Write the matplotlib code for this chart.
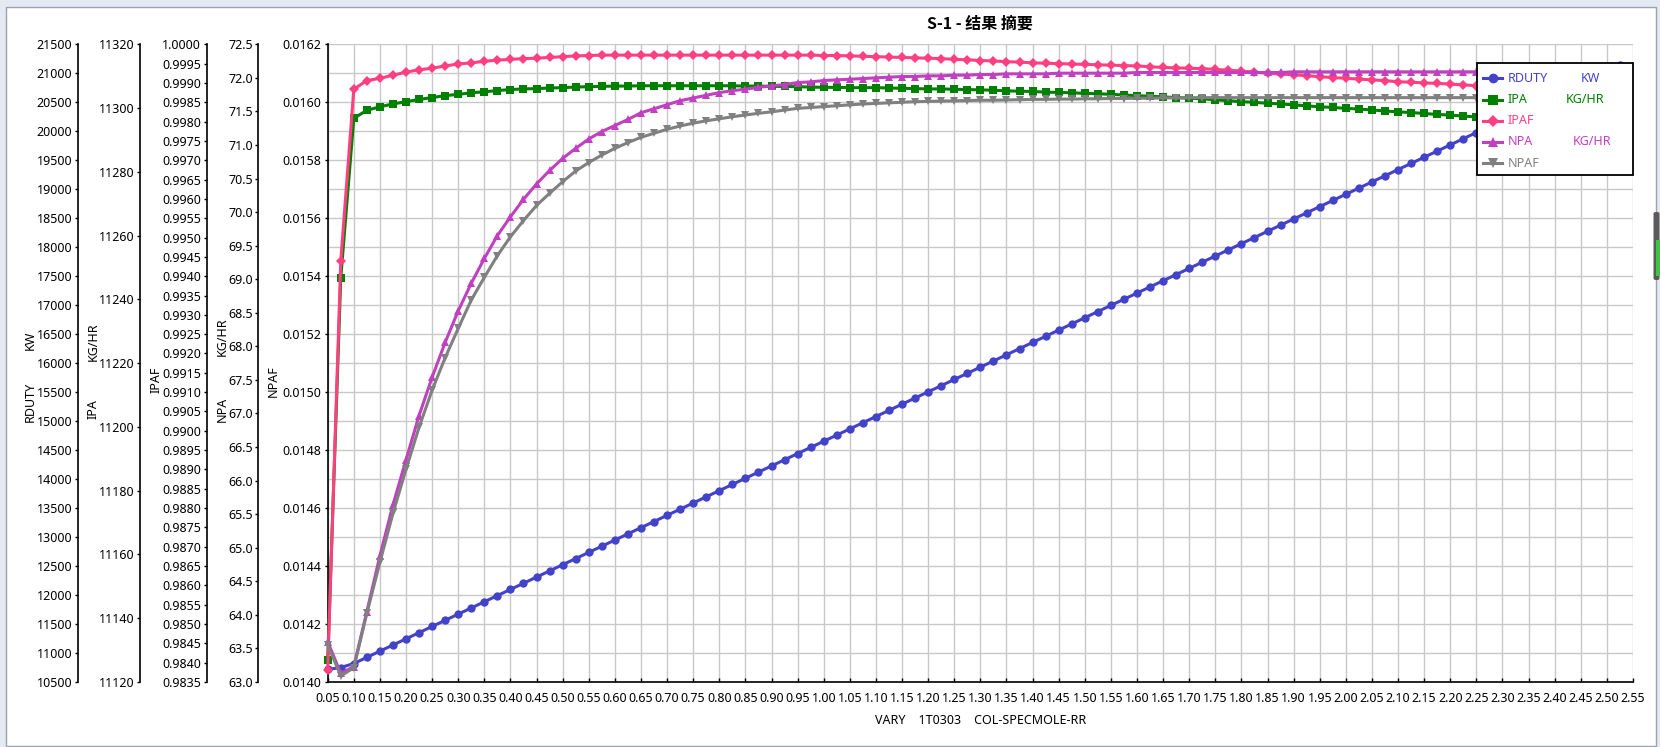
import matplotlib
import matplotlib.pyplot as plt
import numpy as np
from matplotlib.lines import Line2D
from matplotlib.patches import Rectangle, FancyBboxPatch
from matplotlib.ticker import MultipleLocator, FormatStrFormatter

matplotlib.use("Agg")

plt.rcParams["font.family"] = ["Noto Sans", "Noto Sans CJK SC", "DejaVu Sans"]
plt.rcParams["font.size"] = 9

# sweep variable: VARY 1, T0303 COL-SPEC MOLE-RR (0.05 .. 2.525, step 0.025)
vary_rr = np.linspace(0.05, 2.525, 100)

# RDUTY  (KW)
rduty = [
    10716, 10750, 10819, 10925, 11032, 11138, 11245, 11351, 11458, 11564,
    11671, 11777, 11884, 11990, 12097, 12203, 12310, 12416, 12523, 12629,
    12736, 12842, 12949, 13055, 13162, 13268, 13375, 13481, 13588, 13694,
    13801, 13907, 14014, 14120, 14227, 14333, 14440, 14546, 14653, 14759,
    14866, 14972, 15079, 15185, 15292, 15398, 15505, 15611, 15718, 15824,
    15931, 16037, 16144, 16250, 16357, 16463, 16570, 16676, 16783, 16889,
    16996, 17102, 17209, 17315, 17422, 17528, 17635, 17741, 17848, 17954,
    18061, 18167, 18274, 18380, 18487, 18593, 18700, 18806, 18913, 19019,
    19126, 19232, 19339, 19445, 19552, 19658, 19765, 19871, 19978, 20084,
    20191, 20297, 20404, 20510, 20617, 20723, 20830, 20936, 21043, 21149,
]

# IPA  (KG/HR)
ipa = [
    11126.9, 11246.7, 11296.8, 11299.3, 11300.4, 11301.3, 11302.0, 11302.7, 11303.3, 11303.9,
    11304.3, 11304.8, 11305.1, 11305.5, 11305.8, 11306.0, 11306.1, 11306.3, 11306.4, 11306.6,
    11306.7, 11306.8, 11306.9, 11306.9, 11307.0, 11307.0, 11307.0, 11307.0, 11307.0, 11307.0,
    11307.0, 11307.0, 11306.9, 11306.9, 11306.8, 11306.8, 11306.7, 11306.6, 11306.5, 11306.5,
    11306.4, 11306.4, 11306.4, 11306.3, 11306.2, 11306.1, 11306.0, 11306.0, 11305.9, 11305.8,
    11305.7, 11305.6, 11305.4, 11305.3, 11305.2, 11305.0, 11304.9, 11304.8, 11304.6, 11304.5,
    11304.3, 11304.1, 11303.9, 11303.7, 11303.5, 11303.3, 11303.1, 11302.9, 11302.6, 11302.3,
    11302.0, 11301.8, 11301.5, 11301.3, 11301.0, 11300.7, 11300.4, 11300.2, 11299.9, 11299.7,
    11299.4, 11299.1, 11298.8, 11298.6, 11298.3, 11298.0, 11297.8, 11297.5, 11297.2, 11297.0,
    11296.7, 11296.4, 11296.2, 11295.9, 11295.6, 11295.4, 11295.1, 11294.8, 11294.6, 11294.3,
]

# IPAF
ipaf = [
    0.98381, 0.99439, 0.99884, 0.99906, 0.99912, 0.99920, 0.99928, 0.99934, 0.99938, 0.99944,
    0.99949, 0.99952, 0.99956, 0.99959, 0.99961, 0.99963, 0.99964, 0.99966, 0.99968, 0.99970,
    0.99971, 0.99972, 0.99972, 0.99972, 0.99972, 0.99972, 0.99972, 0.99972, 0.99972, 0.99972,
    0.99972, 0.99972, 0.99972, 0.99972, 0.99972, 0.99972, 0.99972, 0.99972, 0.99971, 0.99971,
    0.99970, 0.99969, 0.99968, 0.99967, 0.99966, 0.99965, 0.99964, 0.99963, 0.99961, 0.99960,
    0.99958, 0.99957, 0.99955, 0.99954, 0.99952, 0.99951, 0.99950, 0.99949, 0.99948, 0.99947,
    0.99946, 0.99945, 0.99944, 0.99942, 0.99940, 0.99939, 0.99938, 0.99937, 0.99935, 0.99933,
    0.99931, 0.99928, 0.99925, 0.99923, 0.99921, 0.99919, 0.99916, 0.99914, 0.99912, 0.99910,
    0.99908, 0.99906, 0.99903, 0.99902, 0.99900, 0.99899, 0.99897, 0.99895, 0.99893, 0.99891,
    0.99889, 0.99887, 0.99885, 0.99883, 0.99881, 0.99879, 0.99877, 0.99875, 0.99873, 0.99871,
]

# NPA  (KG/HR)
npa = [
    63.60, 63.13, 63.23, 64.05, 64.88, 65.64, 66.31, 66.97, 67.54, 68.06,
    68.53, 68.94, 69.31, 69.65, 69.93, 70.19, 70.42, 70.62, 70.80, 70.95,
    71.09, 71.20, 71.29, 71.38, 71.48, 71.54, 71.60, 71.66, 71.70, 71.74,
    71.78, 71.81, 71.83, 71.86, 71.88, 71.90, 71.93, 71.94, 71.96, 71.97,
    71.98, 71.99, 72.00, 72.01, 72.02, 72.02, 72.03, 72.03, 72.04, 72.04,
    72.05, 72.05, 72.06, 72.06, 72.06, 72.06, 72.07, 72.07, 72.07, 72.07,
    72.07, 72.07, 72.08, 72.08, 72.08, 72.08, 72.08, 72.08, 72.08, 72.08,
    72.08, 72.08, 72.08, 72.08, 72.09, 72.09, 72.09, 72.09, 72.09, 72.09,
    72.09, 72.09, 72.09, 72.09, 72.09, 72.09, 72.09, 72.09, 72.09, 72.09,
    72.09, 72.09, 72.09, 72.09, 72.09, 72.09, 72.09, 72.09, 72.09, 72.09,
]

# NPAF
npaf = [
    0.014128, 0.014021, 0.014049, 0.014237, 0.014413, 0.014582, 0.014734, 0.014879, 0.015007, 0.015119,
    0.015220, 0.015318, 0.015396, 0.015471, 0.015536, 0.015592, 0.015644, 0.015686, 0.015726, 0.015763,
    0.015792, 0.015818, 0.015841, 0.015861, 0.015879, 0.015893, 0.015907, 0.015918, 0.015928, 0.015936,
    0.015943, 0.015950, 0.015956, 0.015962, 0.015967, 0.015973, 0.015979, 0.015982, 0.015985, 0.015988,
    0.015991, 0.015994, 0.015996, 0.015998, 0.016000, 0.016002, 0.016003, 0.016004, 0.016005, 0.016006,
    0.016007, 0.016007, 0.016008, 0.016009, 0.016010, 0.016010, 0.016011, 0.016011, 0.016012, 0.016012,
    0.016013, 0.016013, 0.016014, 0.016014, 0.016015, 0.016015, 0.016016, 0.016016, 0.016016, 0.016016,
    0.016016, 0.016016, 0.016016, 0.016016, 0.016016, 0.016016, 0.016016, 0.016016, 0.016016, 0.016016,
    0.016016, 0.016016, 0.016016, 0.016016, 0.016016, 0.016016, 0.016016, 0.016016, 0.016016, 0.016016,
    0.016016, 0.016016, 0.016016, 0.016016, 0.016016, 0.016016, 0.016016, 0.016016, 0.016016, 0.016016,
]

names = ["RDUTY", "IPA", "IPAF", "NPA", "NPAF"]
units = ["KW", "KG/HR", "", "KG/HR", ""]

# ---- layout (pixels) ----
W, H = 1660, 747
L, T, R, B = 327.7, 44.3, 1633.0, 682.0

colors = ["#4343c9", "#008000", "#ff4080", "#c040c0", "#808080"]
markers = ["o", "s", "D", "^", "v"]
msizes = [6, 5.5, 5, 6, 6]


def px2ax(xp):
    return (xp - L) / (R - L)


fig = plt.figure(figsize=(W / 100, H / 100), dpi=100, facecolor="#e3eaf3")

# window frame behind the chart
bg = fig.add_axes([0, 0, 1, 1], zorder=-5)
bg.set_xlim(0, W)
bg.set_ylim(H, 0)
bg.axis("off")
bg.add_patch(Rectangle((6, 7), 1650, 739, facecolor="white", edgecolor="#9aa3ad", lw=1))
bg.add_patch(FancyBboxPatch((1653.5, 212), 6, 68, boxstyle="round,pad=0,rounding_size=2",
                            facecolor="#5a5a5a", edgecolor="none"))
bg.add_patch(Rectangle((1655.5, 240), 4.5, 36, facecolor="#3cc83c", edgecolor="none"))

ax = fig.add_axes([L / W, 1 - B / H, (R - L) / W, (B - T) / H])
ax.set_xlim(0.05, 2.55)
ax.set_ylim(0.0140, 0.0162)
ax.xaxis.set_major_locator(MultipleLocator(0.05))
ax.xaxis.set_major_formatter(FormatStrFormatter("%.2f"))
ax.yaxis.set_major_locator(MultipleLocator(0.0002))
ax.yaxis.set_minor_locator(MultipleLocator(0.0001))
ax.yaxis.set_major_formatter(FormatStrFormatter("%.4f"))
ax.grid(True, which="both", color="#c8c8c8", lw=1)
ax.set_axisbelow(True)
for s in ["top", "right"]:
    ax.spines[s].set_visible(False)
for s in ["left", "bottom"]:
    ax.spines[s].set_linewidth(1.2)
ax.tick_params(axis="x", direction="in", length=3, width=1, pad=7, labelsize=9)
ax.tick_params(axis="y", direction="out", length=2.5, width=1, pad=2, labelsize=9)
ax.tick_params(axis="y", which="minor", length=0)

ax.set_title("S-1 - 结果 摘要", fontsize=11.5, fontweight="bold",
             family=["Noto Sans CJK SC", "DejaVu Sans"], y=(B - 32) / (B - T), va="center")
ax.set_xlabel("VARY    1T0303    COL-SPECMOLE-RR", fontsize=9)
ax.xaxis.label.set_va("center")
ax.xaxis.set_label_coords(0.5, (B - 721) / (B - T))

# parasite y axes on the left
axis_specs = [
    (rduty, (10500, 21500), 500, "%d", 77.7),
    (ipa, (11120, 11320), 20, "%d", 140.3),
    (ipaf, (0.9835, 1.0000), 0.0005, "%.4f", 206.7),
    (npa, (63.0, 72.5), 0.5, "%.1f", 258.3),
]
for i, (vals, lim, step, fmt, spx) in enumerate(axis_specs):
    t = ax.twinx()
    t.set_ylim(*lim)
    t.yaxis.set_major_locator(MultipleLocator(step))
    t.yaxis.set_major_formatter(FormatStrFormatter(fmt))
    t.yaxis.tick_left()
    for s in ["right", "top", "bottom"]:
        t.spines[s].set_visible(False)
    t.spines["left"].set_visible(True)
    t.spines["left"].set_linewidth(1.2)
    t.spines["left"].set_position(("axes", px2ax(spx)))
    t.tick_params(axis="y", direction="out", length=2.5, width=1, pad=1.5, labelsize=9)
    t.plot(vary_rr, vals, color=colors[i], marker=markers[i], ms=msizes[i],
           mew=0, lw=2.2, clip_on=False)

# NPAF series on top, sharing the host scale
tg = ax.twinx()
tg.set_ylim(ax.get_ylim())
tg.yaxis.set_visible(False)
for s in tg.spines.values():
    s.set_visible(False)
tg.plot(vary_rr, npaf, color=colors[4], marker=markers[4], ms=msizes[4],
        mew=0, lw=2.2, clip_on=False)

# overlay for axis titles and legend (pixel coordinates)
ov = fig.add_axes([0, 0, 1, 1], zorder=10)
ov.set_xlim(0, W)
ov.set_ylim(H, 0)
ov.axis("off")
ov.patch.set_visible(False)

label_pos = [  # x, bottom of name, top of unit
    (30, 422, 331),
    (93, 419, 322),
    (156, 393, None),
    (222, 422, 317),
    (273.5, 397, None),
]
for name, unit, (x, yb, yt) in zip(names, units, label_pos):
    ov.text(x, yb, name, rotation=90, rotation_mode="anchor", ha="left", va="center",
            fontsize=9, color="black")
    if unit:
        ov.text(x, yt, unit, rotation=90, rotation_mode="anchor", ha="right", va="center",
                fontsize=9, color="black")

# legend box
ov.add_patch(Rectangle((1477, 63.3), 156, 111.7, facecolor="white", edgecolor="black", lw=1.3))
unit_x = [1581, 1566, None, 1573, None]
for i, name in enumerate(names):
    y = 78.3 + 21.2 * i
    ov.add_line(Line2D([1483, 1502], [y, y], color=colors[i], lw=2.2))
    ov.add_line(Line2D([1492.5], [y], color=colors[i], marker=markers[i], ms=msizes[i] + 1, mew=0))
    ov.text(1508, y, name, ha="left", va="center", fontsize=9, color=colors[i])
    if units[i]:
        ov.text(unit_x[i], y, units[i], ha="left", va="center", fontsize=9, color=colors[i])

fig.savefig("out.png", dpi=100, facecolor=fig.get_facecolor())
plt.close(fig)
